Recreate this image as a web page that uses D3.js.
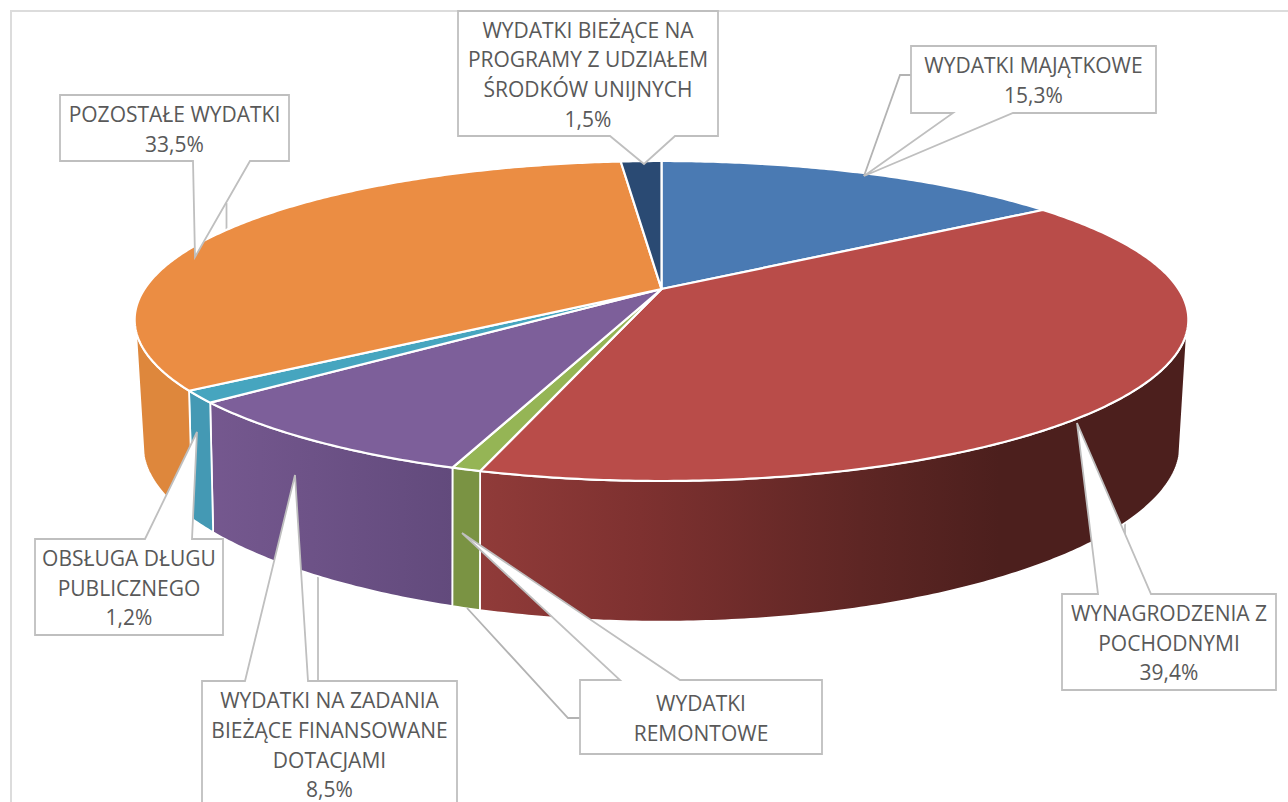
<!DOCTYPE html>
<html>
<head>
<meta charset="utf-8">
<script src="https://cdn.jsdelivr.net/npm/d3@7"></script>
<style>
html, body { margin: 0; background: #fff; overflow: hidden; }
</style>
</head>
<body>
<div class="chart"></div>
<script>
const width = 1288
const height = 802

// data, clockwise from 12 o'clock
const categories = [
    "WYDATKI MAJĄTKOWE",
    "WYNAGRODZENIA Z POCHODNYMI",
    "WYDATKI REMONTOWE",
    "WYDATKI NA ZADANIA BIEŻĄCE FINANSOWANE DOTACJAMI",
    "OBSŁUGA DŁUGU PUBLICZNEGO",
    "POZOSTAŁE WYDATKI",
    "WYDATKI BIEŻĄCE NA PROGRAMY Z UDZIAŁEM ŚRODKÓW UNIJNYCH"
]
// remontowe has no printed value, estimated from the width of its slice
const values = [15.3, 39.4, 0.75, 8.5, 1.2, 33.5, 1.5]
const labelLines = [
    ["WYDATKI MAJĄTKOWE"],
    ["WYNAGRODZENIA Z", "POCHODNYMI"],
    ["WYDATKI", "REMONTOWE"],
    ["WYDATKI NA ZADANIA", "BIEŻĄCE FINANSOWANE", "DOTACJAMI"],
    ["OBSŁUGA DŁUGU", "PUBLICZNEGO"],
    ["POZOSTAŁE WYDATKI"],
    ["WYDATKI BIEŻĄCE NA", "PROGRAMY Z UDZIAŁEM", "ŚRODKÓW UNIJNYCH"]
]
const showValue = [true, true, false, true, true, true, true]

// styles
const topColors = ["#4a7ab3", "#b94c49", "#95b555", "#7d5f9a", "#46a5bf", "#eb8d43", "#2a4a73"]
const sideStops = [
    [["#4a7ab3", 0], ["#4a7ab3", 1]],
    [["#903b39", 481], ["#7e3130", 640], ["#5e2624", 860], ["#4c1f1d", 1000], ["#4c1f1d", 1187]],
    [["#7a9343", 454], ["#7a9343", 481]],
    [["#75588f", 208], ["#624a7c", 454]],
    [["#4499b4", 188], ["#4499b4", 217]],
    [["#de873c", 135], ["#de873c", 197]],
    [["#2a4a73", 0], ["#2a4a73", 1]]
]

// callout layout: box, wedge base on one box edge and its tip, plus extra leader lines
const callouts = [
    {box: [911, 46, 1156, 113], edge: "bottom", base: [953, 1013], tip: [864, 176],
        front: [[911, 75], [900, 75], [864, 176]]},
    {box: [1062, 594, 1276, 690], edge: "top", base: [1098, 1151], tip: [1077, 423],
        behind: [[1125, 522], [1125, 536]]},
    {box: [580, 680, 822, 754], edge: "top", base: [620, 680], tip: [462, 533],
        front: [[580, 718], [568, 718], [467, 608]]},
    {box: [202, 681, 457, 807], edge: "top", base: [245, 308], tip: [295, 475],
        behind: [[318, 577], [318, 681]]},
    {box: [35, 539, 223, 635], edge: "top", base: [145, 192], tip: [197, 432]},
    {box: [60, 95, 289, 161], edge: "bottom", base: [193, 250], tip: [195, 257],
        behind: [[226.5, 203], [226.5, 234]]},
    {box: [458, 11, 718, 136], edge: "bottom", base: [610, 675], tip: [644, 164]}
]

const topDisc = {cx: 661.5, cy: 289, bx: 517, by: 153.6, kx: 0.1925, ky: 0.2}
const bottomDisc = {cx: 661.5, cy: 411, bx: 507, by: 158, kx: 0.21, ky: 0.25}

const sideStart = 105 * Math.PI / 180
const sideEnd = 255 * Math.PI / 180

const locale = d3.formatLocale({decimal: ",", thousands: " ", grouping: [3], currency: ["", ""]})
const pct = v => locale.format(".1f")(v) + "%"

const svg = d3.select(".chart").append("svg")
    .attr("width", width)
    .attr("height", height)
    .style("display", "block")
    .style("font-family", "'Open Sans', sans-serif")

const arcs = d3.pie().sort(null).value(d => d).startAngle(0).endAngle(2 * Math.PI)(values)

// angle on the disc to screen, a circle seen in perspective
function project(disc, a) {
    return [
        disc.cx + disc.bx * Math.sin(a) / (1 + disc.kx * Math.cos(a)),
        disc.cy - disc.by * Math.cos(a) / (1 + disc.ky * Math.cos(a))
    ]
}

function rimPoints(disc, a0, a1) {
    const n = Math.max(2, Math.ceil((a1 - a0) / 0.01))
    return d3.range(n + 1).map(i => project(disc, a0 + (a1 - a0) * i / n))
}

const line = d3.line()

const defs = svg.append("defs")
sideStops.forEach((stops, i) => {
    const x0 = stops[0][1]
    const x1 = stops[stops.length - 1][1]
    const grad = defs.append("linearGradient")
        .attr("id", "side" + i)
        .attr("gradientUnits", "userSpaceOnUse")
        .attr("x1", x0).attr("x2", x1).attr("y1", 0).attr("y2", 0)
    stops.forEach(s => {
        grad.append("stop")
            .attr("offset", (s[1] - x0) / (x1 - x0))
            .attr("stop-color", s[0])
    })
})

// frame
svg.append("path")
    .attr("d", line([[11, height], [11, 11], [width, 11]]))
    .attr("fill", "none")
    .attr("stroke", "#dcdcdc")
    .attr("stroke-width", 2)

// leaders that sit behind the pie
svg.append("g").selectAll("path")
    .data(callouts.filter(c => c.behind))
    .join("path")
    .attr("d", c => line(c.behind))
    .attr("fill", "none")
    .attr("stroke", "#bfbfbf")
    .attr("stroke-width", 1.8)

// outer wall, only the part turned towards the viewer
const sides = arcs
    .map((d, i) => ({i, a0: Math.max(d.startAngle, sideStart), a1: Math.min(d.endAngle, sideEnd)}))
    .filter(d => d.a1 > d.a0)

svg.append("g").selectAll("path")
    .data(sides)
    .join("path")
    .attr("d", d => line(rimPoints(topDisc, d.a0, d.a1)
        .concat(rimPoints(bottomDisc, d.a0, d.a1).reverse())) + "Z")
    .attr("fill", d => `url(#side${d.i})`)
    .attr("stroke", "#fff")
    .attr("stroke-width", 1.8)
    .attr("stroke-linejoin", "round")

// top of the pie
svg.append("g").selectAll("path")
    .data(arcs)
    .join("path")
    .attr("d", d => line([[topDisc.cx, topDisc.cy]].concat(rimPoints(topDisc, d.startAngle, d.endAngle))) + "Z")
    .attr("fill", (d, i) => topColors[i])
    .attr("stroke", "#fff")
    .attr("stroke-width", 2.2)
    .attr("stroke-linejoin", "round")

// callouts
function calloutPath(c) {
    const [x0, y0, x1, y1] = c.box
    const [b0, b1] = c.base
    if (c.edge === "top") {
        return line([[x0, y0], [b0, y0], c.tip, [b1, y0], [x1, y0], [x1, y1], [x0, y1]]) + "Z"
    }
    return line([[x0, y0], [x1, y0], [x1, y1], [b1, y1], c.tip, [b0, y1], [x0, y1]]) + "Z"
}

const lineStep = 29.7

const callout = svg.append("g").selectAll("g")
    .data(callouts)
    .join("g")

callout.filter(c => c.front).append("path")
    .attr("d", c => line(c.front))
    .attr("fill", "none")
    .attr("stroke", "#b3b3b3")
    .attr("stroke-width", 1.8)

callout.append("path")
    .attr("d", calloutPath)
    .attr("fill", "#fff")
    .attr("stroke", "#bfbfbf")
    .attr("stroke-width", 1.8)

callout.append("text")
    .attr("text-anchor", "middle")
    .attr("fill", "#595959")
    .attr("font-size", 21)
    .selectAll("tspan")
    .data((c, i) => {
        const rows = showValue[i] ? labelLines[i].concat(pct(values[i])) : labelLines[i]
        const midX = (c.box[0] + c.box[2]) / 2
        const midY = (c.box[1] + c.box[3]) / 2
        const first = midY - rows.length * lineStep / 2 + 23.5
        return rows.map((t, j) => ({t, x: midX, y: first + j * lineStep}))
    })
    .join("tspan")
    .attr("x", d => d.x)
    .attr("y", d => d.y)
    .text(d => d.t)
</script>
</body>
</html>
